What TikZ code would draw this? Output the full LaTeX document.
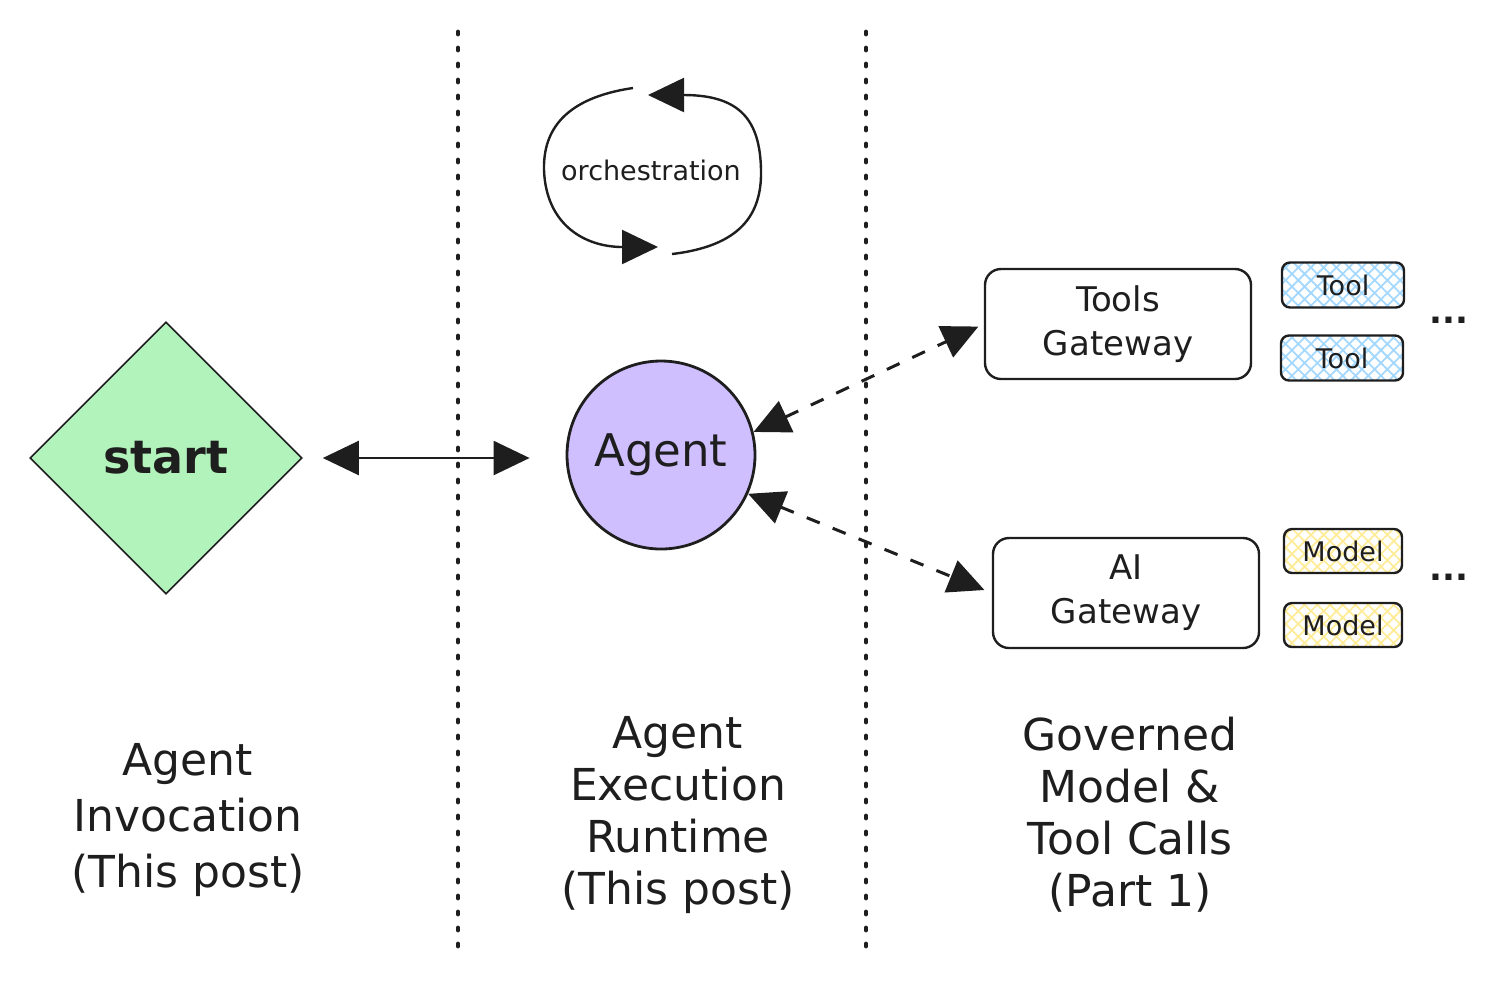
\documentclass[tikz,border=0pt]{standalone}
\usepackage{fontspec}
\setmainfont{DejaVu Sans}
\usepackage{xcolor}
\usetikzlibrary{positioning,arrows.meta,shapes.geometric,patterns.meta}
\definecolor{ink}{HTML}{1E1E1E}
\definecolor{startgreen}{HTML}{B2F2BB}
\definecolor{agentpurple}{HTML}{D0BFFF}
\definecolor{toolblue}{HTML}{A5D8FF}
\definecolor{modelyellow}{HTML}{FFEC99}

\begin{document}
\begin{tikzpicture}[x=0.5pt, y=-0.5pt, color=ink, line width=1.2pt,
  sep/.style={line width=2.4pt, dash pattern=on 1pt off 7pt, line cap=round},
  gate/.style={draw, rounded corners=8pt, minimum width=133pt, minimum height=55pt, align=center, font=\fontsize{17}{22}\selectfont},
  toolbox/.style={draw, rounded corners=4pt, minimum width=61pt, minimum height=22.5pt, inner sep=0pt, font=\fontsize{13.5}{13.5}\selectfont,
    pattern={Hatch[angle=45, distance=4.5pt, line width=0.9pt]}, pattern color=toolblue},
  modelbox/.style={toolbox, minimum width=59pt, minimum height=22pt, pattern color=modelyellow},
  colnote/.style={align=center, font=\fontsize{22}{26}\selectfont},
  dashlink/.style={line width=1.5pt, dash pattern=on 7pt off 7pt},
  more/.style={font=\bfseries\fontsize{17}{17}\selectfont},
  >={Triangle[length=18pt, width=17pt]}]
\useasboundingbox (0,0) rectangle (1497,993);

\coordinate (s1top) at (458,32);
\coordinate (s1bot) at (458,958);
\coordinate (s2top) at (866,32);
\coordinate (s2bot) at (866,958);
\draw[sep] (s1top) -- (s1bot);
\draw[sep] (s2top) -- (s2bot);

\node[diamond, draw, line width=0.8pt, fill=startgreen, minimum width=136pt, minimum height=136pt, inner sep=0pt,
  font=\bfseries\fontsize{23}{26}\selectfont] (start) at (166,458) {start};
\node[circle, draw, line width=1.4pt, fill=agentpurple, minimum size=94pt,
  font=\fontsize{22.5}{26}\selectfont] (agent) at (661,455) {Agent};
\draw[<->, shorten <=10pt, shorten >=18pt] (start.east) -- (start.east -| agent.west);

\node[font=\fontsize{13.5}{16}\selectfont] (orch) at (651,170) {orchestration};
\coordinate (lpa) at (633,88);
\coordinate (lpb) at (658,247);
\coordinate (lpc) at (672,254);
\coordinate (lpd) at (648,95);
\draw[->] (lpa) .. controls (565,98) and (543,130) .. (544,170) .. controls (546,225) and (585,247) .. (lpb);
\draw[->] (lpc) .. controls (740,246) and (762,215) .. (761,170) .. controls (760,120) and (740,95) .. (lpd);

\node[gate] (tgw) at (1118,324) {Tools\\Gateway};
\node[gate] (agw) at (1126,593) {AI\\Gateway};
\draw[<->, dashlink, shorten >=3pt] (agent.14) -- (tgw.west);
\draw[<->, dashlink, shorten >=4pt] (agent.-24) -- (agw.west);

\node[toolbox] (tool1) at (1343,285) {Tool};
\node[toolbox] (tool2) at (1342,358) {Tool};
\node[modelbox] (model1) at (1343,551) {Model};
\node[modelbox] (model2) at (1343,625) {Model};
\node[more] (more1) at (1449,320) {...};
\node[more] (more2) at (1449,577) {...};

\node[colnote, font=\fontsize{22}{28}\selectfont] (inv) at (188,820) {Agent\\Invocation\\(This post)};
\node[colnote] (rt) at (678,815) {Agent\\Execution\\Runtime\\(This post)};
\node[colnote] (gov) at (1130,815) {Governed\\Model \&\\Tool Calls\\(Part 1)};
\end{tikzpicture}
\end{document}
